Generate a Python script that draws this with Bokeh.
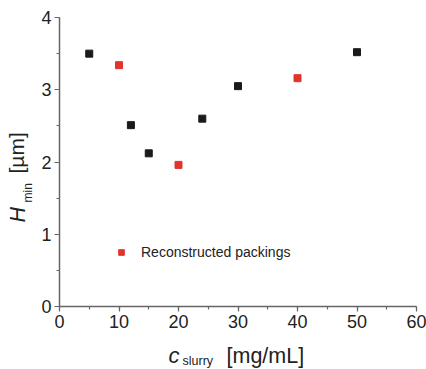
import numpy as np
from bokeh.plotting import figure
from bokeh.models import Label, Legend, LegendItem, SingleIntervalTicker, Range1d
from bokeh.embed import file_html
from bokeh.resources import INLINE

# Minimum pore height vs. slurry concentration
measured_c = [5, 12, 15, 24, 30, 50]
measured_h = [3.50, 2.51, 2.12, 2.60, 3.05, 3.52]
recon_c = [10, 20, 40]
recon_h = [3.34, 1.96, 3.16]
legend_label = "Reconstructed packings"

x_ticks_interval = 10
y_ticks_interval = 1
XMIN, XMAX, YMIN, YMAX = 0, 60, 0, 4

W, H = 426, 369
# pixel box spanned by the two axes inside the canvas
AX_L, AX_R, AX_T, AX_B = 59, 416, 17, 306
SX = (AX_R - AX_L) / (XMAX - XMIN)
SY = (AX_B - AX_T) / (YMAX - YMIN)

FONT = "Liberation Sans"
AXIS_COLOR = "#666666"
TEXT_COLOR = "#222222"


def dx(px):
    """canvas x pixel -> data x"""
    return XMIN + (px - AX_L) / SX


def dy(py):
    """canvas y pixel (from top) -> data y"""
    return YMIN + (AX_B - py) / SY


# The frame fills the whole canvas; the axes sit at x=0 / y=0 so that the
# titles can be drawn anywhere on the canvas without being clipped.
p = figure(width=W, height=H, x_range=Range1d(dx(0), dx(W)), y_range=Range1d(dy(H), dy(0)),
           output_backend="svg", toolbar_location=None, min_border=0)
p.outline_line_color = None
p.xgrid.visible = False
p.ygrid.visible = False
p.background_fill_color = "white"
p.border_fill_color = "white"

p.xaxis.ticker = SingleIntervalTicker(interval=x_ticks_interval, num_minor_ticks=2)
p.yaxis.ticker = SingleIntervalTicker(interval=y_ticks_interval, num_minor_ticks=2)
p.xaxis.fixed_location = YMIN
p.yaxis.fixed_location = XMIN
p.xaxis.bounds = (XMIN, XMAX)
p.yaxis.bounds = (YMIN, YMAX)
for ax in (p.xaxis, p.yaxis):
    ax.axis_line_color = AXIS_COLOR
    ax.axis_line_width = 1.5
    ax.major_tick_line_color = AXIS_COLOR
    ax.minor_tick_line_color = AXIS_COLOR
    ax.major_tick_line_width = 1.2
    ax.minor_tick_line_width = 1.2
    ax.major_tick_in = 0
    ax.major_tick_out = 5
    ax.minor_tick_in = 0
    ax.minor_tick_out = 3
    ax.major_label_text_font = FONT
    ax.major_label_text_font_size = "18px"
    ax.major_label_text_color = TEXT_COLOR
    ax.major_label_standoff = 3

p.scatter(measured_c, measured_h, marker="square", size=7, color="#1a1a1a")
r_recon = p.scatter(recon_c, recon_h, marker="square", size=7, color="#e0342e")

legend = Legend(items=[LegendItem(label=legend_label, renderers=[r_recon])],
                location=(114, H - 262), padding=0, margin=0, glyph_width=14, glyph_height=20,
                label_standoff=13, border_line_color=None, background_fill_alpha=0,
                label_text_font=FONT, label_text_font_size="14px",
                label_text_color=TEXT_COLOR)
p.add_layout(legend)


def title_piece(px, py, text, size, italic=False, angle=0.0):
    """A piece of an axis title anchored at canvas pixel (px, py)."""
    p.add_layout(Label(x=dx(px), y=dy(py), text=text, angle=angle,
                       text_font=FONT, text_font_size=size,
                       text_font_style="italic" if italic else "normal",
                       text_color=TEXT_COLOR, text_baseline="alphabetic",
                       text_align="left"))


# x-axis title: c_slurry [mg/mL]
title_piece(168, 355, "c", "22px", italic=True)
title_piece(182, 360, "slurry", "12.5px")
title_piece(226, 355, "[mg/mL]", "21.5px")

# y-axis title: H_min [µm]
title_piece(17, 222, "H", "21.5px", italic=True, angle=np.pi / 2)
title_piece(27, 202, "min", "12px", angle=np.pi / 2)
title_piece(15.5, 173, "[µm]", "21px", angle=np.pi / 2)

open("out.html", "w").write(file_html(p, INLINE))
